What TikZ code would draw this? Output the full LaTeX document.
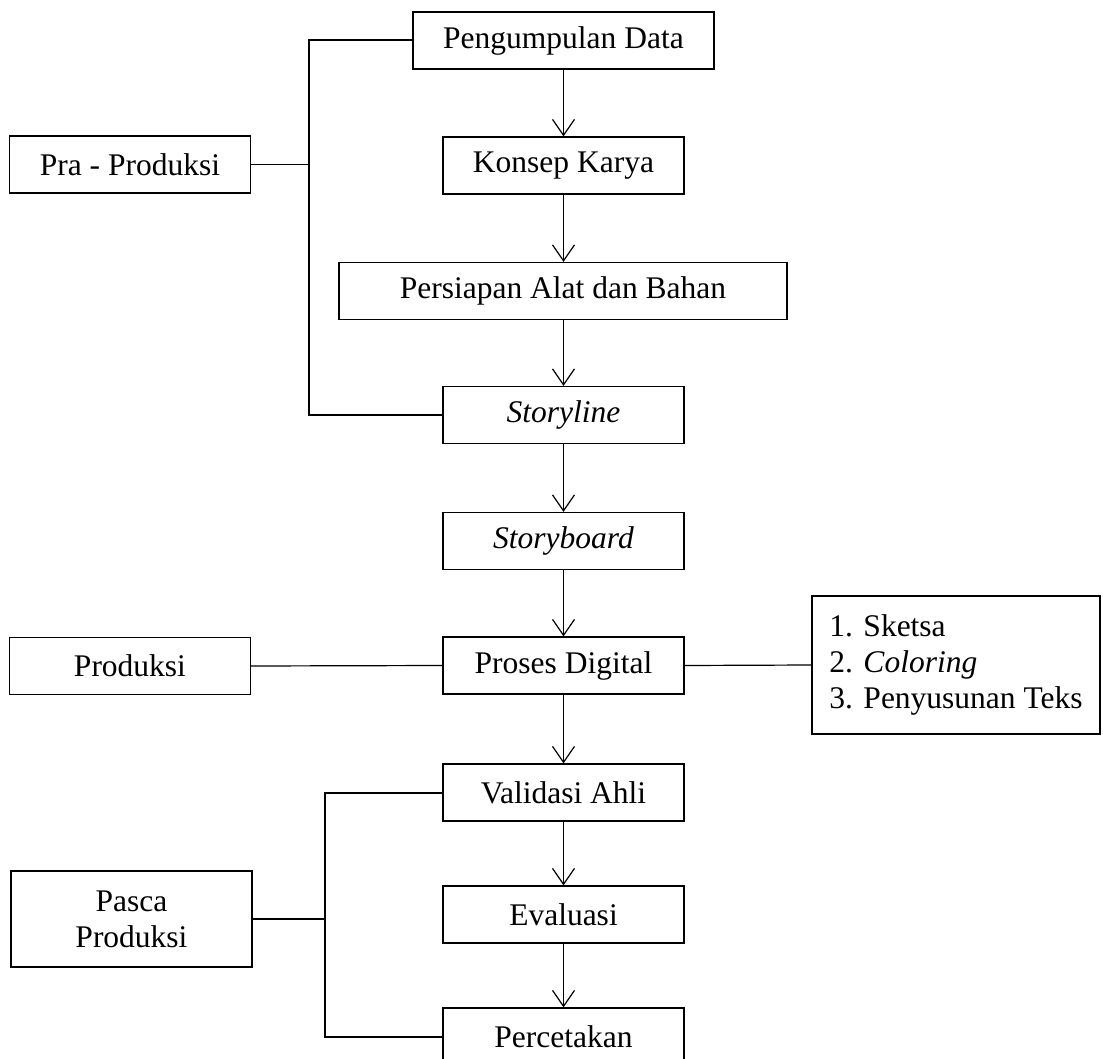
\documentclass[tikz,border=0pt]{standalone}
\usepackage{fontspec}
\setmainfont{Liberation Serif}
\usetikzlibrary{arrows.meta}

\begin{document}
\begin{tikzpicture}[x=1pt,y=-1pt,line width=1.2pt,
  every node/.style={font=\fontsize{31.5}{36}\selectfont},
  kotak/.style={draw,inner sep=0pt,minimum height=57pt,minimum width=241pt},
  panah/.style={-{Straight Barb[length=16pt,width=22pt]}},
  kurung/.style={line width=2pt}]
  \useasboundingbox (0,0) rectangle (1103,1059);
  % alur utama
  \node[kotak,minimum width=301pt] (data) at (563.5,40.5) {Pengumpulan Data};
  \node[kotak] (konsep) at (563.5,165.5) {Konsep Karya};
  \node[kotak,minimum width=448pt] (alat) at (563,291) {Persiapan Alat dan Bahan};
  \node[kotak] (storyline) at (563.5,415) {\textit{Storyline}};
  \node[kotak] (storyboard) at (563.5,541) {\textit{Storyboard}};
  \node[kotak] (digital) at (563.5,665.5) {Proses Digital};
  \node[kotak] (validasi) at (563.5,792.5) {Validasi Ahli};
  \node[kotak] (evaluasi) at (563.5,914.5) {Evaluasi};
  \node[kotak] (cetak) at (563.5,1036.5) {Percetakan};
  % tahapan
  \node[kotak] (pra) at (130,164.5) {Pra - Produksi};
  \node[kotak] (produksi) at (130,666) {Produksi};
  \node[kotak,minimum height=96pt,align=center] (pasca) at (131.5,919) {Pasca\\Produksi};
  \node[kotak,minimum width=288pt,minimum height=138pt,align=left] (tahap) at (956,665)
    {1. Sketsa\\2. \textit{Coloring}\\3. Penyusunan Teks};
  \coordinate (prakurung) at (309,166);
  \coordinate (pascakurung) at (325,919);

  \draw[panah] (data) -- (konsep);
  \draw[panah] (konsep) -- (alat.north -| konsep);
  \draw[panah] (alat.south -| konsep) -- (storyline);
  \draw[panah] (storyline) -- (storyboard);
  \draw[panah] (storyboard) -- (digital);
  \draw[panah] (digital) -- (validasi);
  \draw[panah] (validasi) -- (evaluasi);
  \draw[panah] (evaluasi) -- (cetak);

  \draw[kurung] (data.west) -| (prakurung) |- (storyline.west);
  \draw (pra.east) -- (pra.east -| prakurung);
  \draw (produksi.east) -- (digital.west);
  \draw (digital.east) -- (tahap.west);
  \draw[kurung] (validasi.west) -| (pascakurung) |- (cetak.west);
  \draw (pasca.east) -- (pascakurung);
\end{tikzpicture}
\end{document}
